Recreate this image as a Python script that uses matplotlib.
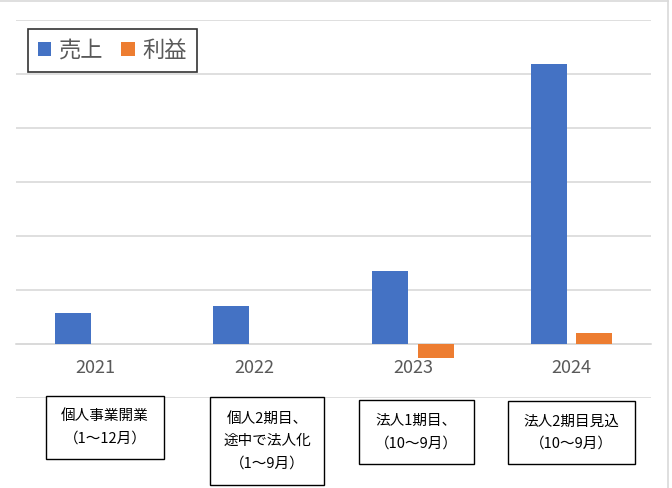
import matplotlib
matplotlib.use("Agg")
import matplotlib.pyplot as plt
from matplotlib.patches import Rectangle
import numpy as np

plt.rcParams['font.family'] = ['Noto Sans CJK JP', 'DejaVu Sans']

years = ["2021", "2022", "2023", "2024"]
sales = [0.57, 0.70, 1.35, 5.18]
profit = [0.0, 0.0, -0.25, 0.20]
notes = ["個人事業開業\n（1～12月）",
         "個人2期目、\n途中で法人化\n（1～9月）",
         "法人1期目、\n（10～9月）",
         "法人2期目見込\n（10～9月）"]

W, H = 672, 488
fig = plt.figure(figsize=(W / 100, H / 100), dpi=100)

def fx(px):
    return px / W

def fy(py):
    return 1 - py / H

ax = fig.add_axes([fx(16), fy(398), fx(651) - fx(16), fy(20) - fy(398)])
x = np.arange(len(years))
bw = 0.227
off = 0.143
ax.bar(x - off, sales, bw, color="#4472C4", label="売上", zorder=3)
ax.bar(x + off, profit, bw, color="#ED7D31", label="利益", zorder=3)

ax.set_xlim(-0.5, len(years) - 0.5)
ax.set_ylim(-1, 6)
ax.set_yticks(np.arange(-1, 7))
ax.yaxis.grid(True, color="#D9D9D9", linewidth=1.2, zorder=0)
ax.tick_params(axis='y', left=False, labelleft=False)
for s in ["left", "right", "top"]:
    ax.spines[s].set_visible(False)
ax.spines["bottom"].set_position(("data", 0))
ax.spines["bottom"].set_color("#D9D9D9")
ax.spines["bottom"].set_linewidth(1.2)
ax.spines["bottom"].set_zorder(2)
ax.set_xticks(x)
ax.set_xticklabels(years)
ax.tick_params(axis='x', length=0, pad=11, labelsize=13, labelcolor="#595959")
ax.set_facecolor("none")

leg = ax.legend(loc="upper left", bbox_to_anchor=(fx(28), fy(29)),
                bbox_transform=fig.transFigure, ncol=2, frameon=True,
                fancybox=False, edgecolor="black", fontsize=16,
                handlelength=0.6, handleheight=0.6, handletextpad=0.35,
                columnspacing=0.8, borderpad=0.45, borderaxespad=0)
leg.get_frame().set_linewidth(1.2)
for t in leg.get_texts():
    t.set_color("#595959")

boxes = [(46, 396, 164, 459), (210, 397, 324, 485), (359, 400, 474, 464), (508, 401, 635, 464)]
for (x0, y0, x1, y1), txt in zip(boxes, notes):
    fig.patches.append(Rectangle((fx(x0), fy(y1)), fx(x1) - fx(x0), fy(y0) - fy(y1),
                                 transform=fig.transFigure, facecolor="white",
                                 edgecolor="black", linewidth=1.0))
    fig.text(fx((x0 + x1) / 2), fy((y0 + y1) / 2), txt, ha="center", va="center",
             fontsize=10.5, color="black", linespacing=1.75)

# outer chart border (top and right visible)
fig.add_artist(plt.Line2D([0, fx(667.5)], [fy(1), fy(1)], transform=fig.transFigure, color="#D9D9D9", lw=1.2))
fig.add_artist(plt.Line2D([fx(667.5), fx(667.5)], [fy(1), 0], transform=fig.transFigure, color="#D9D9D9", lw=1.2))

fig.savefig("out.png", dpi=100)
